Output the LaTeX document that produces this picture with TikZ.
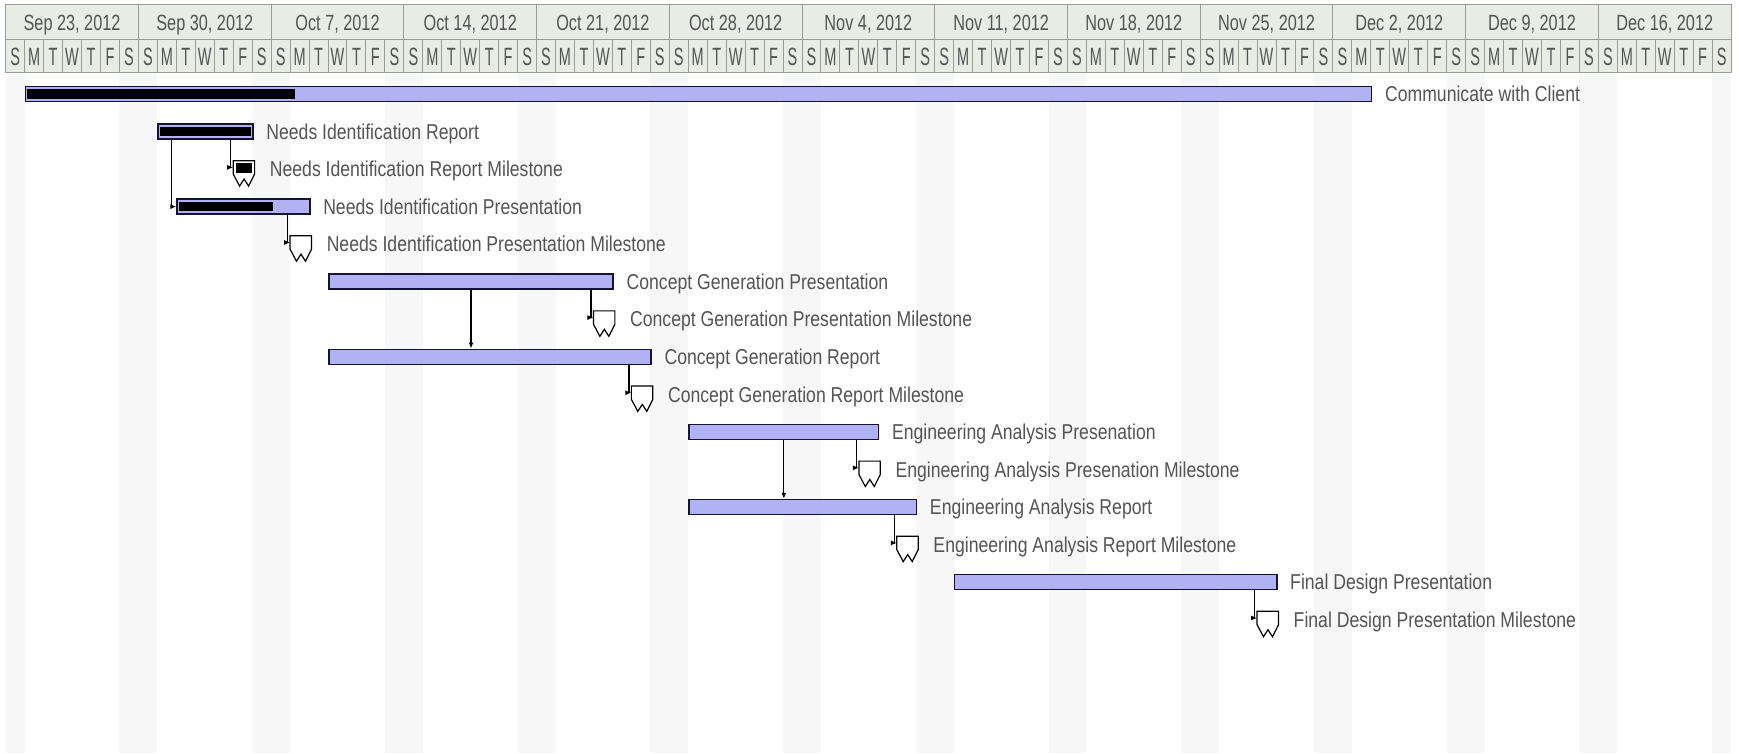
\documentclass[tikz,border=0pt]{standalone}
\usepackage{fontspec}
\setmainfont{Liberation Sans}[FakeStretch=0.82]
\newfontfamily\datefont{Liberation Sans}[FakeStretch=0.74]
\newfontfamily\dayfont{Liberation Sans}[FakeStretch=0.58]
\usepackage{tikz}
\usetikzlibrary{arrows.meta}
\definecolor{barfill}{RGB}{176,178,244}
\definecolor{barline}{RGB}{20,20,50}
\definecolor{hdrfill}{RGB}{232,236,228}
\definecolor{hdrline}{RGB}{150,160,146}
\definecolor{wkend}{RGB}{247,247,247}
\definecolor{txt}{RGB}{84,84,84}

\begin{document}
\begin{tikzpicture}[x=18.96pt, y=-37.55pt,
    bar/.style={draw=barline, fill=barfill, line width=1.6pt, minimum height=15pt, inner sep=0pt, anchor=west},
    mstone/.style={minimum width=21pt, minimum height=13pt, inner sep=0pt, anchor=north west},
    lbl/.style={anchor=base west, inner sep=0pt, text=txt, font=\fontsize{21.5}{25}\selectfont},
    hdr/.style={anchor=base, inner sep=0pt, text=txt},
    conn/.style={-{Latex[length=6pt,width=5pt]}, line width=1.2pt},
    grid/.style={draw=hdrline, line width=1pt}]
  \fill[white] (-0.3,-2.503) rectangle (91.418,17.55);
  \useasboundingbox (-0.3,-2.503) rectangle (91.418,17.55);
  % weekend columns
  \fill[wkend] (0,-0.567) rectangle (1,17.55);
  \foreach \w in {1,...,12}
    \fill[wkend] (7*\w-1,-0.567) rectangle (7*\w+1,17.55);
  \fill[wkend] (90,-0.567) rectangle (91,17.55);
  % timescale
  \filldraw[fill=hdrfill, grid] (0,-2.383) rectangle (91,-0.567);
  \draw[grid] (0,-1.438) -- (91,-1.438);
  \foreach \d in {1,...,90}
    \draw[grid] (\d,-1.438) -- (\d,-0.567);
  \foreach \w in {1,...,12}
    \draw[grid] (7*\w,-2.383) -- (7*\w,-1.438);
  \foreach \t [count=\w from 0] in {{Sep 23, 2012},{Sep 30, 2012},{Oct 7, 2012},{Oct 14, 2012},{Oct 21, 2012},{Oct 28, 2012},{Nov 4, 2012},{Nov 11, 2012},{Nov 18, 2012},{Nov 25, 2012},{Dec 2, 2012},{Dec 9, 2012},{Dec 16, 2012}}
    \node[hdr, font=\datefont\fontsize{22}{26}\selectfont] (wk\w) at (7*\w+3.5,-1.696) {\t};
  \foreach \w in {0,...,12}
    \foreach \l [count=\i from 0] in {S,M,T,W,T,F,S}
      \node[hdr, font=\dayfont\fontsize{25}{28}\selectfont] (d\w-\i) at (7*\w+\i+0.5,-0.756) {\l};
  % tasks
  \foreach \n/\s/\e/\r/\t in {com/1/72/0/Communicate with Client,
      nir/8/13/1/Needs Identification Report,
      nip/9/16/3/Needs Identification Presentation,
      cgp/17/32/5/Concept Generation Presentation,
      cgr/17/34/7/Concept Generation Report,
      eap/36/46/9/Engineering Analysis Presenation,
      ear/36/48/11/Engineering Analysis Report,
      fdp/50/67/13/Final Design Presentation} {
    \node[bar, minimum width={(\e-\s)*18.96pt}] (\n) at (\s,\r) {};
    \node[lbl] (\n-l) at ([xshift=14pt,yshift=-7.7pt]\e,\r) {\t};
  }
  % progress
  \fill ([shift={(2.8pt,4.8pt)}]com.west) rectangle ([yshift=-4.8pt]15.25,0);
  \fill ([shift={(2.8pt,4.8pt)}]nir.west) rectangle ([shift={(-2.8pt,-4.8pt)}]nir.east);
  \fill ([shift={(2.8pt,4.8pt)}]nip.west) rectangle ([yshift=-4.8pt]14.1,3);
  % milestones
  \foreach \n/\d/\r/\t in {nirm/12/2/Needs Identification Report Milestone,
      nipm/15/4/Needs Identification Presentation Milestone,
      cgpm/31/6/Concept Generation Presentation Milestone,
      cgrm/33/8/Concept Generation Report Milestone,
      eapm/45/10/Engineering Analysis Presenation Milestone,
      earm/47/12/Engineering Analysis Report Milestone,
      fdpm/66/14/Final Design Presentation Milestone} {
    \node[mstone] (\n) at ([yshift=8.4pt]\d,\r) {};
    \filldraw[fill=white, line width=1.2pt] (\n.south west) -- (\n.north west) -- (\n.north east)
      -- (\n.south east) -- ++(-6pt,-12pt) -- ++(-4.5pt,7pt) -- ++(-4.5pt,-7pt) -- cycle;
    \node[lbl] (\n-l) at ([xshift=17.5pt,yshift=-7.7pt]\d+1,\r) {\t};
  }
  \fill ([shift={(2.5pt,-2.5pt)}]nirm.north west) rectangle ([shift={(-3pt,1.5pt)}]nirm.south east);
  % links
  \draw[conn] ([xshift=14pt]nir.south west) |- (nip.west);
  \draw[conn] ([xshift=-23pt]nir.south east) |- (nirm.west);
  \draw[conn] ([xshift=-23pt]nip.south east) |- (nipm.west);
  \draw[conn] ([xshift=-23pt]cgp.south east) |- (cgpm.west);
  \draw[conn] (cgp.south) -- (cgp.south |- cgr.north);
  \draw[conn] ([xshift=-23pt]cgr.south east) |- (cgrm.west);
  \draw[conn] ([xshift=-23pt]eap.south east) |- (eapm.west);
  \draw[conn] (eap.south) -- (eap.south |- ear.north);
  \draw[conn] ([xshift=-23pt]ear.south east) |- (earm.west);
  \draw[conn] ([xshift=-23pt]fdp.south east) |- (fdpm.west);
\end{tikzpicture}
\end{document}
